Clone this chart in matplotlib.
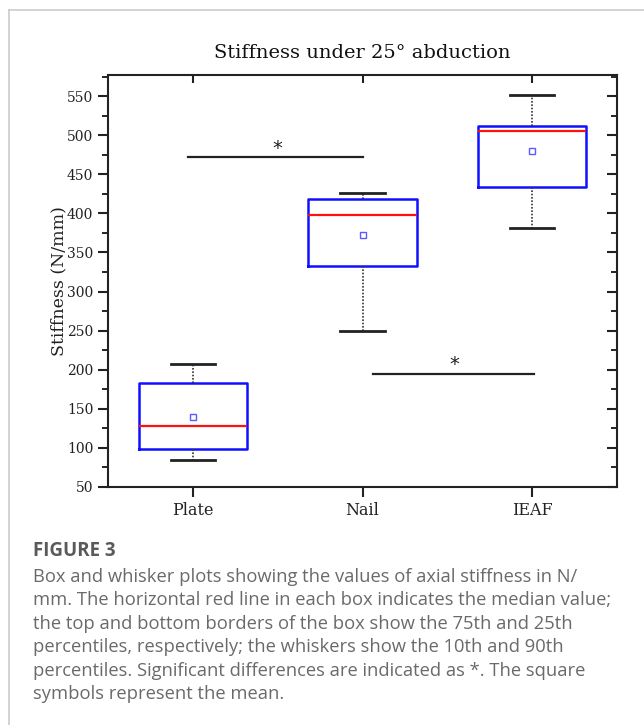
import matplotlib
matplotlib.use("Agg")
import matplotlib.pyplot as plt
from matplotlib.lines import Line2D
from matplotlib.ticker import FixedLocator

# ---- data ----
categories = ["Plate", "Nail", "IEAF"]
whisker_low = [85, 250, 381]
q1 = [98, 333, 434]
median = [128, 398, 505]
q3 = [183, 419, 512]
whisker_high = [207, 426, 551]
mean = [139, 372, 480]

sig_lines_x = [(0.97, 2.0), (2.06, 3.01)]
sig_lines_y = [472, 195]
sig_star_x = [1.5, 2.54]
sig_star_y = [483, 207]

title = "Stiffness under 25\u00b0 abduction"
ylabel = "Stiffness (N/mm)"
caption_head = "FIGURE 3"
caption_lines = [
    "Box and whisker plots showing the values of axial stiffness in N/",
    "mm. The horizontal red line in each box indicates the median value;",
    "the top and bottom borders of the box show the 75th and 25th",
    "percentiles, respectively; the whiskers show the 10th and 90th",
    "percentiles. Significant differences are indicated as *. The square",
    "symbols represent the mean.",
]

W, H = 644, 725
fig = plt.figure(figsize=(W / 100, H / 100), dpi=100)
fig.patch.set_facecolor("white")

# light grey frame lines (left and top)
fig.add_artist(Line2D([9 / W, 9 / W], [0, 1 - 10 / H], color="#cccccc", lw=1.2))
fig.add_artist(Line2D([9 / W, 1], [1 - 10 / H, 1 - 10 / H], color="#cccccc", lw=1.2))

ax = fig.add_axes([108 / W, 1 - 487 / H, (617 - 108) / W, (487 - 75) / H])

positions = [1, 2, 3]
stats = []
for i, c in enumerate(categories):
    stats.append(dict(label=c, med=median[i], q1=q1[i], q3=q3[i],
                      whislo=whisker_low[i], whishi=whisker_high[i],
                      mean=mean[i], fliers=[]))

ax.bxp(stats, positions=positions, widths=0.64, capwidths=0.26,
       showmeans=True, showfliers=False,
       boxprops=dict(color="#1010ff", linewidth=1.8),
       medianprops=dict(color="#ff1010", linewidth=1.6),
       whiskerprops=dict(color="#333333", linewidth=1.2, linestyle=(0, (1, 1))),
       capprops=dict(color="#222222", linewidth=2.0),
       meanprops=dict(marker="s", markersize=4.5, markerfacecolor="none",
                      markeredgecolor="#5a5aff", markeredgewidth=1.0))

for (x0, x1), y in zip(sig_lines_x, sig_lines_y):
    ax.plot([x0, x1], [y, y], color="#222222", lw=1.6)
for x, y in zip(sig_star_x, sig_star_y):
    ax.text(x, y, "*", ha="center", va="center", fontsize=14,
            family="DejaVu Sans", color="#222222")

ax.set_xlim(0.5, 3.5)
ax.set_ylim(50, 577)
ax.yaxis.set_major_locator(FixedLocator(list(range(50, 551, 50))))
ax.yaxis.set_minor_locator(FixedLocator(list(range(75, 576, 50))))
ax.set_xticks(positions)
ax.set_xticklabels(categories)

for s in ax.spines.values():
    s.set_linewidth(1.5)
    s.set_color("#222222")

ax.tick_params(axis="y", which="major", direction="out", length=7, width=1.5,
               right=True, labelsize=10, colors="#222222")
ax.tick_params(axis="y", which="minor", direction="out", length=4, width=1.2,
               right=True)
# right ticks inward
for t in ax.yaxis.get_major_ticks():
    t.tick2line.set_marker(matplotlib.lines.TICKLEFT)
    t.tick2line.set_markersize(7)
for t in ax.yaxis.get_minor_ticks():
    t.tick2line.set_marker(matplotlib.lines.TICKLEFT)
    t.tick2line.set_markersize(4)

ax.tick_params(axis="x", which="major", direction="out", length=7, width=1.5,
               top=True, labelsize=11.5, colors="#222222", pad=4)
for t in ax.xaxis.get_major_ticks():
    t.tick2line.set_marker(matplotlib.lines.TICKDOWN)
    t.tick2line.set_markersize(6)

for lab in ax.get_xticklabels() + ax.get_yticklabels():
    lab.set_family("DejaVu Serif")
    lab.set_color("#222222")

ax.set_title(title, family="DejaVu Serif", fontsize=14, pad=12, color="#111111")
ax.set_ylabel(ylabel, family="DejaVu Serif", fontsize=12.5, color="#222222",
              labelpad=0)

# caption
fig.text(33 / W, 1 - 551 / H, caption_head, ha="left", va="center",
         family="Open Sans", fontsize=13.5, fontweight="bold", color="#5a5a5a")
y0 = 577
for k, line in enumerate(caption_lines):
    fig.text(33 / W, 1 - (y0 + 23.4 * k) / H, line, ha="left", va="center",
             family="Open Sans", fontsize=13.2, color="#6a6a6a")

fig.savefig("out.png", dpi=100, facecolor="white")
